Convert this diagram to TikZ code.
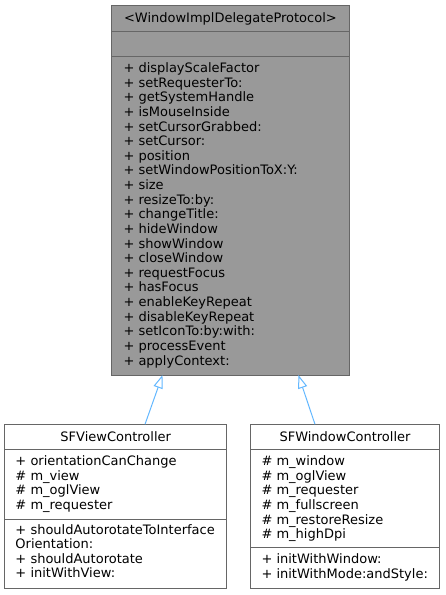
\documentclass[tikz,border=0pt]{standalone}
\usepackage{fontspec}
\usetikzlibrary{arrows.meta}
\newfontfamily\dejavu{DejaVu Sans}
\definecolor{grayforty}{HTML}{666666}
\definecolor{graysixty}{HTML}{999999}
\definecolor{steelblueone}{HTML}{63B8FF}
\tikzset{
  box/.style={draw=grayforty, line width=1pt, inner sep=0pt, outer sep=0pt, anchor=north west},
  lbl/.style={anchor=base west, inner sep=0pt, font={\dejavu\fontsize{13}{14.6}\selectfont}},
  ttl/.style={anchor=base, inner sep=0pt, font={\dejavu\fontsize{13}{14.6}\selectfont}},
  sepline/.style={draw=grayforty, line width=1pt},
  inh/.style={draw=steelblueone, line width=1pt, -{Triangle[open, length=13.3pt, width=9.3pt]}}
}
\begin{document}
\begin{tikzpicture}[x=1pt,y=-1pt]
\useasboundingbox (0,0) rectangle (445,595);
\fill[white] (0,0) rectangle (445,595);
% boxes
\node[box, fill=graysixty, minimum width=237.8pt, minimum height=370pt] (proto) at (111.5,5) {};
\node[box, fill=white, minimum width=222pt, minimum height=164pt] (sfview) at (4.7,424.3) {};
\node[box, fill=white, minimum width=188.6pt, minimum height=164pt] (sfwin) at (250.7,424.3) {};
% separators
\draw[sepline] (proto.west |- 0,31.7) -- (proto.east |- 0,31.7);
\draw[sepline] (proto.west |- 0,56.7) -- (proto.east |- 0,56.7);
\draw[sepline] (sfview.west |- 0,449.3) -- (sfview.east |- 0,449.3);
\draw[sepline] (sfview.west |- 0,519) -- (sfview.east |- 0,519);
\draw[sepline] (sfwin.west |- 0,449.3) -- (sfwin.east |- 0,449.3);
\draw[sepline] (sfwin.west |- 0,547.7) -- (sfwin.east |- 0,547.7);
% titles
\node[ttl] (protoT) at (230.4,22.5) {<WindowImplDelegateProtocol>};
\node[ttl] (sfviewT) at (115.7,441.8) {SFViewController};
\node[ttl] (sfwinT) at (345,441.8) {SFWindowController};
% protocol methods
\foreach \t [count=\i from 0] in {displayScaleFactor,setRequesterTo:,getSystemHandle,isMouseInside,setCursorGrabbed:,setCursor:,position,setWindowPositionToX:Y:,size,resizeTo:by:,changeTitle:,hideWindow,showWindow,closeWindow,requestFocus,hasFocus,enableKeyRepeat,disableKeyRepeat,setIconTo:by:with:,processEvent,applyContext:}
  \node[lbl] (pm\i) at (123.3,72.5+14.63*\i) {+ \t};
% SFViewController
\foreach \t [count=\i from 0] in {+ orientationCanChange,\# m\_view,\# m\_oglView,\# m\_requester}
  \node[lbl] (va\i) at (15.3,465.5+14.63*\i) {\t};
\foreach \t [count=\i from 0] in {+ shouldAutorotateToInterface,Orientation:,+ shouldAutorotate,+ initWithView:}
  \node[lbl] (vm\i) at (15.3,534+14.63*\i) {\t};
% SFWindowController
\foreach \t [count=\i from 0] in {\# m\_window,\# m\_oglView,\# m\_requester,\# m\_fullscreen,\# m\_restoreResize,\# m\_highDpi}
  \node[lbl] (wa\i) at (261.3,465.5+14.63*\i) {\t};
\foreach \t [count=\i from 0] in {+ initWithWindow:,+ initWithMode:andStyle:}
  \node[lbl] (wm\i) at (261.3,563.5+14.63*\i) {\t};
% inheritance
\draw[inh] ([xshift=29.3pt]sfview.north) -- ([xshift=-67.9pt]proto.south);
\draw[inh] ([xshift=-30pt]sfwin.north) -- ([xshift=68pt]proto.south);
\end{tikzpicture}
\end{document}
